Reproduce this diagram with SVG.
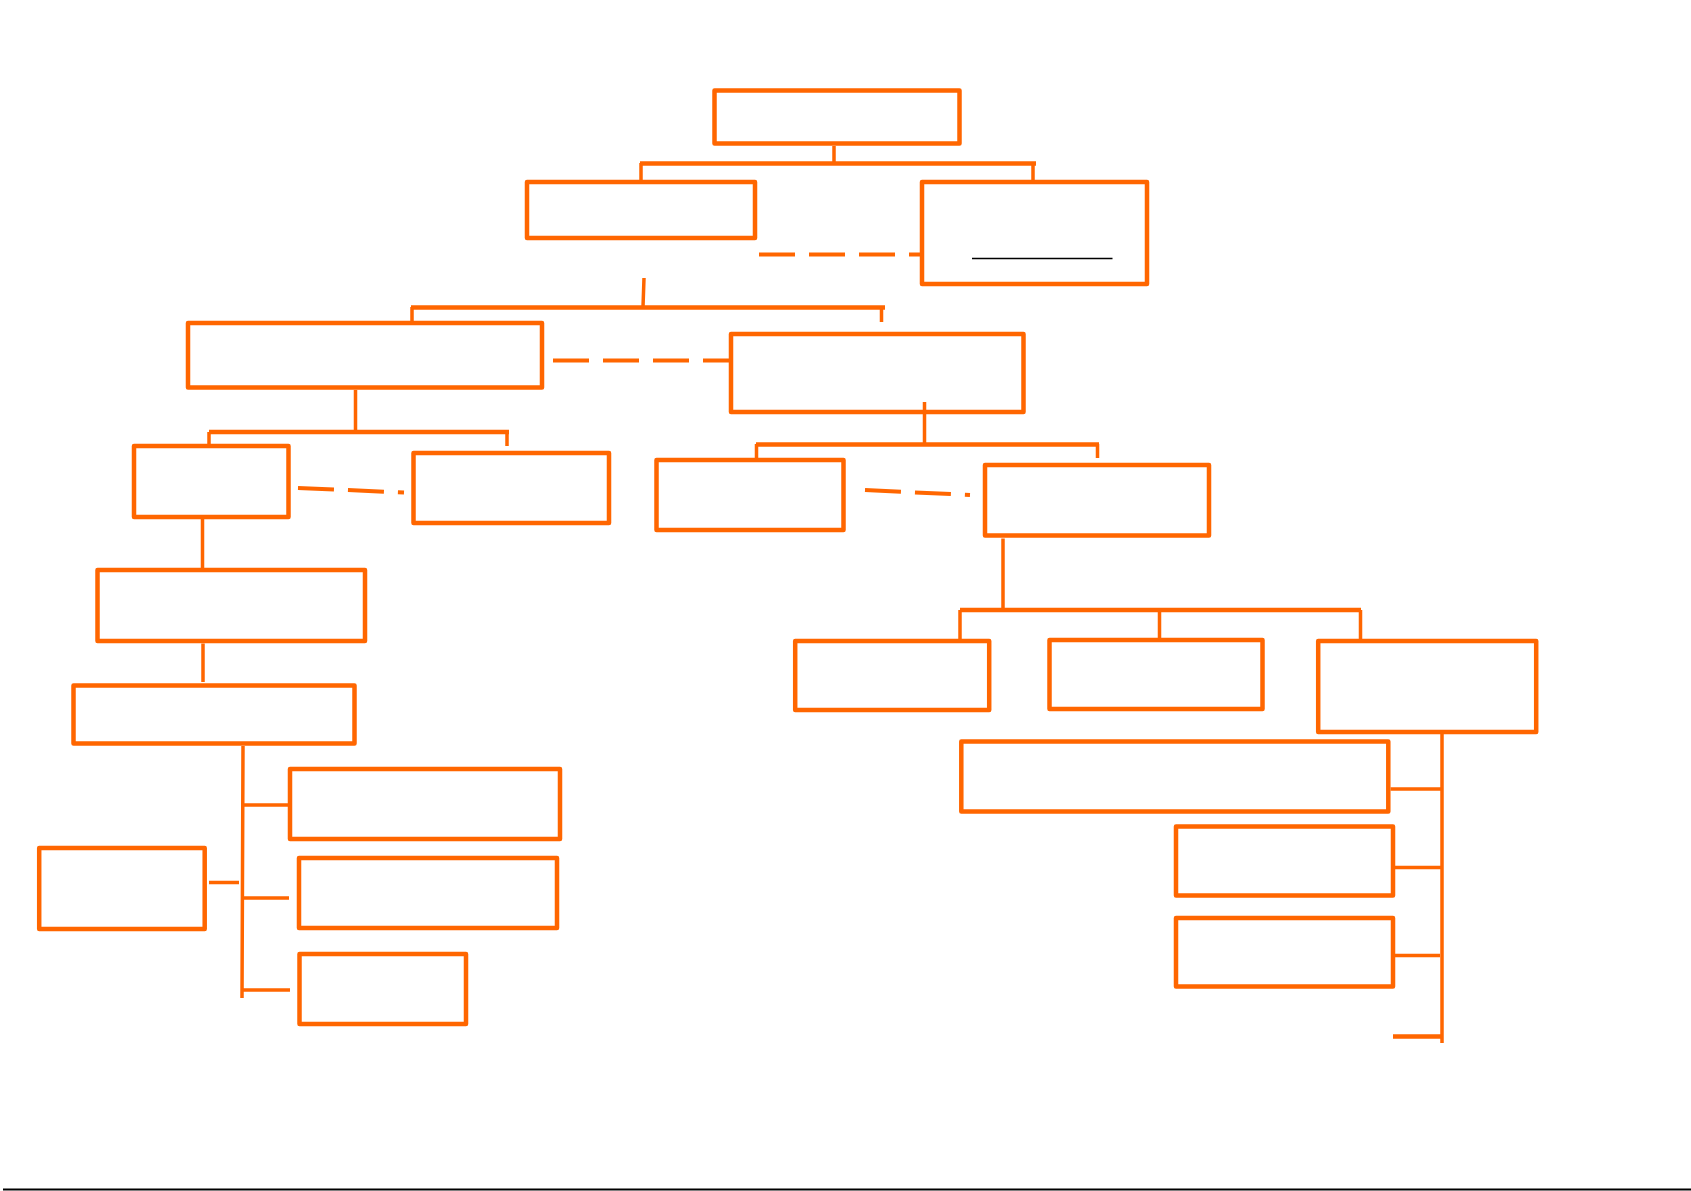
<svg xmlns="http://www.w3.org/2000/svg" width="1691" height="1191" viewBox="0 0 1691 1191">
<style>
.box{fill:#fff;stroke:#FF6600;stroke-width:4.5;stroke-linejoin:round}
.c{fill:none;stroke:#FF6600;stroke-width:3.5}
.bar{fill:none;stroke:#FF6600;stroke-width:4.5}
.d{fill:none;stroke:#FF6600;stroke-width:4;stroke-dasharray:36 14}
</style>
<rect width="1691" height="1191" fill="#fff"/>
<g id="n-top"><rect class="box" x="714.5" y="90.5" width="245" height="53"/></g>
<g id="n-a"><rect class="box" x="527" y="182" width="228" height="56"/></g>
<g id="n-b"><rect class="box" x="922" y="182" width="225" height="102"/><line x1="972" y1="258.5" x2="1112.5" y2="258.5" stroke="#000" stroke-width="1.5"/></g>
<g id="n-c1"><rect class="box" x="188" y="323" width="354" height="64.5"/></g>
<g id="n-c2"><rect class="box" x="731" y="334" width="292.5" height="78"/></g>
<g id="n-d1"><rect class="box" x="134" y="446" width="154.5" height="71"/></g>
<g id="n-d2"><rect class="box" x="413.5" y="453" width="195.5" height="70"/></g>
<g id="n-e1"><rect class="box" x="656.5" y="460" width="187" height="70"/></g>
<g id="n-e2"><rect class="box" x="985" y="465" width="224" height="70.5"/></g>
<g id="n-f"><rect class="box" x="97.5" y="570" width="267.5" height="71"/></g>
<g id="n-g"><rect class="box" x="73.5" y="685.5" width="281" height="58"/></g>
<g id="n-h1"><rect class="box" x="290" y="769" width="270" height="70"/></g>
<g id="n-h2"><rect class="box" x="299" y="858" width="258" height="70"/></g>
<g id="n-h3"><rect class="box" x="299.5" y="954" width="166.5" height="70"/></g>
<g id="n-l"><rect class="box" x="39.2" y="848" width="165.5" height="81"/></g>
<g id="n-i1"><rect class="box" x="795.2" y="641" width="194" height="69"/></g>
<g id="n-i2"><rect class="box" x="1049.5" y="640" width="213" height="69"/></g>
<g id="n-i3"><rect class="box" x="1318.2" y="641" width="218" height="91"/></g>
<g id="n-j1"><rect class="box" x="961.3" y="741.5" width="427" height="70"/></g>
<g id="n-j2"><rect class="box" x="1176" y="826.5" width="217" height="69"/></g>
<g id="n-j3"><rect class="box" x="1176" y="918" width="217" height="68.5"/></g>
<g id="connectors">
<path class="c" d="M834,146V163M641,163V181M1033,163V181"/>
<path class="bar" d="M640,163.5H1036"/>
<path class="d" d="M759,254.5H920"/>
<path class="c" d="M644,278L643,307M412,307V321M881.5,307V322"/>
<path class="bar" d="M411,307.5H885"/>
<path class="d" d="M553,360.5H729"/>
<path class="c" d="M355.5,390V432M209,432V444M507,432V446"/>
<path class="bar" d="M209,432H509"/>
<path class="d" d="M298,488L404,492.5"/>
<path class="c" d="M924.5,402V444.5M756.5,444V458M1097.5,444V458"/>
<path class="bar" d="M756,444.5H1099"/>
<path class="d" d="M865,490L970,495"/>
<path class="c" d="M202.5,519V568M203,643.5V682M243,746L242,998M243,805H289M243,898H289M243,990H290M209,882.5H239"/>
<path class="c" d="M1003,538.5V610M960,610V639M1159.5,610V638M1360.5,610V639M1442,734V1043M1390.5,789H1442M1395,867.5H1442M1395,955.5H1440"/>
<path class="bar" d="M960,610H1361M1393,1036.5H1442"/>
</g>
<line x1="3" y1="1189.5" x2="1691" y2="1189.5" stroke="#000" stroke-width="2"/>
</svg>
